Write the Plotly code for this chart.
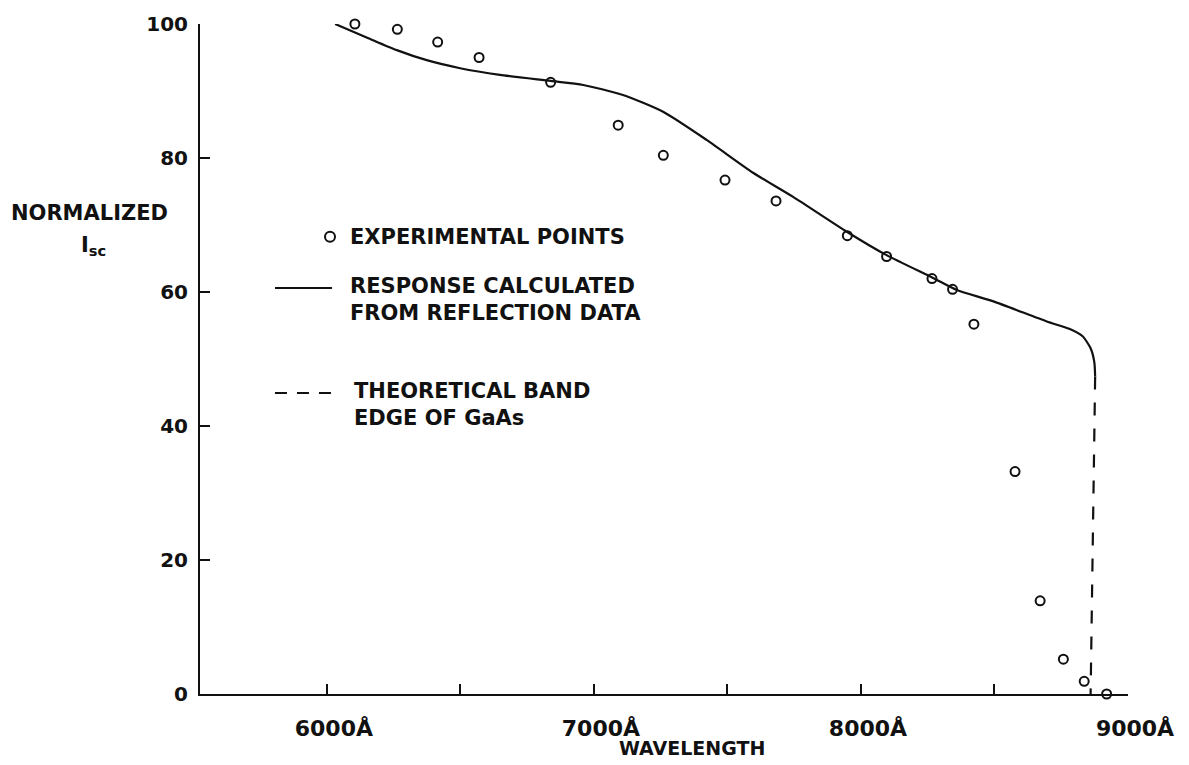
import plotly.graph_objects as go

# Measured short-circuit current (wavelength in Å, normalized Isc)
wl_exp = [6105, 6264, 6415, 6570, 6838, 7091, 7260, 7491, 7682, 7949,
          8096, 8266, 8343, 8423, 8577, 8671, 8758, 8836, 8920]
isc_exp = [100.0, 99.2, 97.3, 95.0, 91.3, 84.9, 80.4, 76.7, 73.6, 68.4,
           65.3, 62.0, 60.4, 55.2, 33.2, 13.9, 5.2, 1.9, 0.0]

# Response calculated from reflection data
wl_calc = [6031, 6149, 6262, 6374, 6499, 6648, 6838, 6960, 7109, 7259,
           7422, 7596, 7746, 7947, 8096, 8270, 8359, 8496, 8696, 8780,
           8830, 8860, 8874, 8877]
isc_calc = [100.0, 98.0, 96.1, 94.6, 93.4, 92.4, 91.5, 90.9, 89.4, 86.9,
            82.7, 77.8, 74.2, 69.0, 65.5, 62.1, 60.3, 58.6, 55.6, 54.5,
            53.4, 51.6, 49.5, 47.4]

# Theoretical band edge of GaAs
wl_edge = [8877, 8860]
isc_edge = [47.4, 0.0]

# Axis ticks
x_tick_vals = [6000, 7000, 8000, 9000]
x_tick_text = ["6000Å", "7000Å", "8000Å", "9000Å"]
x_minor_vals = [6500, 7500, 8500]
y_tick_vals = [0, 20, 40, 60, 80, 100]
y_tick_text = ["0", "20", "40", "60", "80", "100"]

INK = "#111111"
FONT = "DejaVu Sans"

fig = go.Figure()

fig.add_trace(go.Scatter(
    x=wl_calc, y=isc_calc, mode="lines",
    line=dict(color=INK, width=2.2, shape="spline", smoothing=0.6),
    cliponaxis=False, showlegend=False,
))
fig.add_trace(go.Scatter(
    x=wl_edge, y=isc_edge, mode="lines",
    line=dict(color=INK, width=2.2, dash="13px,13px"),
    cliponaxis=False, showlegend=False,
))
fig.add_trace(go.Scatter(
    x=wl_exp, y=isc_exp, mode="markers",
    marker=dict(symbol="circle-open", size=9, color=INK, line=dict(width=2, color=INK)),
    cliponaxis=False, showlegend=False,
))

bold = dict(family=FONT, color=INK, weight="bold")

# Key drawn beside the curves
fig.add_shape(type="circle", xref="paper", yref="paper",
              xsizemode="pixel", ysizemode="pixel",
              xanchor=0.1401, yanchor=0.6825, x0=-5, x1=5, y0=-5, y1=5,
              line=dict(color=INK, width=2))
fig.add_shape(type="line", xref="paper", yref="paper",
              x0=0.0808, x1=0.1422, y0=0.606, y1=0.606,
              line=dict(color=INK, width=2))
fig.add_shape(type="line", xref="paper", yref="paper",
              x0=0.0808, x1=0.1433, y0=0.4493, y1=0.4493,
              line=dict(color=INK, width=2, dash="12px,10px"))

key_text = [
    ("EXPERIMENTAL POINTS", 0.1595, 0.6821),
    ("RESPONSE CALCULATED<br>FROM REFLECTION DATA", 0.1595, 0.5895),
    ("THEORETICAL BAND<br>EDGE OF GaAs", 0.1638, 0.4321),
]
for txt, xp, yp in key_text:
    fig.add_annotation(text=txt, x=xp, y=yp, xref="paper", yref="paper",
                       xanchor="left", yanchor="middle", align="left",
                       showarrow=False, font=dict(size=21, **bold))

# Axis titles
fig.add_annotation(text="NORMALIZED", x=-0.1196, y=0.718, xref="paper", yref="paper",
                   xanchor="center", yanchor="middle", showarrow=False,
                   font=dict(size=21, **bold))
fig.add_annotation(text="I<sub>sc</sub>", x=-0.1153, y=0.668, xref="paper", yref="paper",
                   xanchor="center", yanchor="middle", showarrow=False,
                   font=dict(size=21, **bold))
fig.add_annotation(text="WAVELENGTH", x=0.53, y=-0.081, xref="paper", yref="paper",
                   xanchor="center", yanchor="middle", showarrow=False,
                   font=dict(size=19, **bold))

fig.update_xaxes(
    range=[5525, 9000], showgrid=False, zeroline=False,
    showline=True, linecolor=INK, linewidth=2,
    ticks="inside", ticklen=10, tickwidth=2, tickcolor=INK,
    tickmode="array", tickvals=x_tick_vals, ticktext=x_tick_text,
    minor=dict(ticks="inside", ticklen=10, tickwidth=2, tickcolor=INK,
               tickmode="array", tickvals=x_minor_vals, showgrid=False),
    tickfont=dict(size=22, **bold), ticklabelshift=7, ticklabelstandoff=14,
)
fig.update_yaxes(
    range=[0, 100], showgrid=False, zeroline=False,
    showline=True, linecolor=INK, linewidth=2,
    ticks="inside", ticklen=10, tickwidth=2, tickcolor=INK,
    tickmode="array", tickvals=y_tick_vals, ticktext=y_tick_text,
    tickfont=dict(size=20, **bold), ticklabelstandoff=6,
)

fig.update_layout(
    width=1189, height=765,
    margin=dict(l=200, r=61, t=24, b=71),
    paper_bgcolor="white", plot_bgcolor="white",
    font=dict(family=FONT, color=INK),
    showlegend=False,
)

fig.write_html("out.html")
